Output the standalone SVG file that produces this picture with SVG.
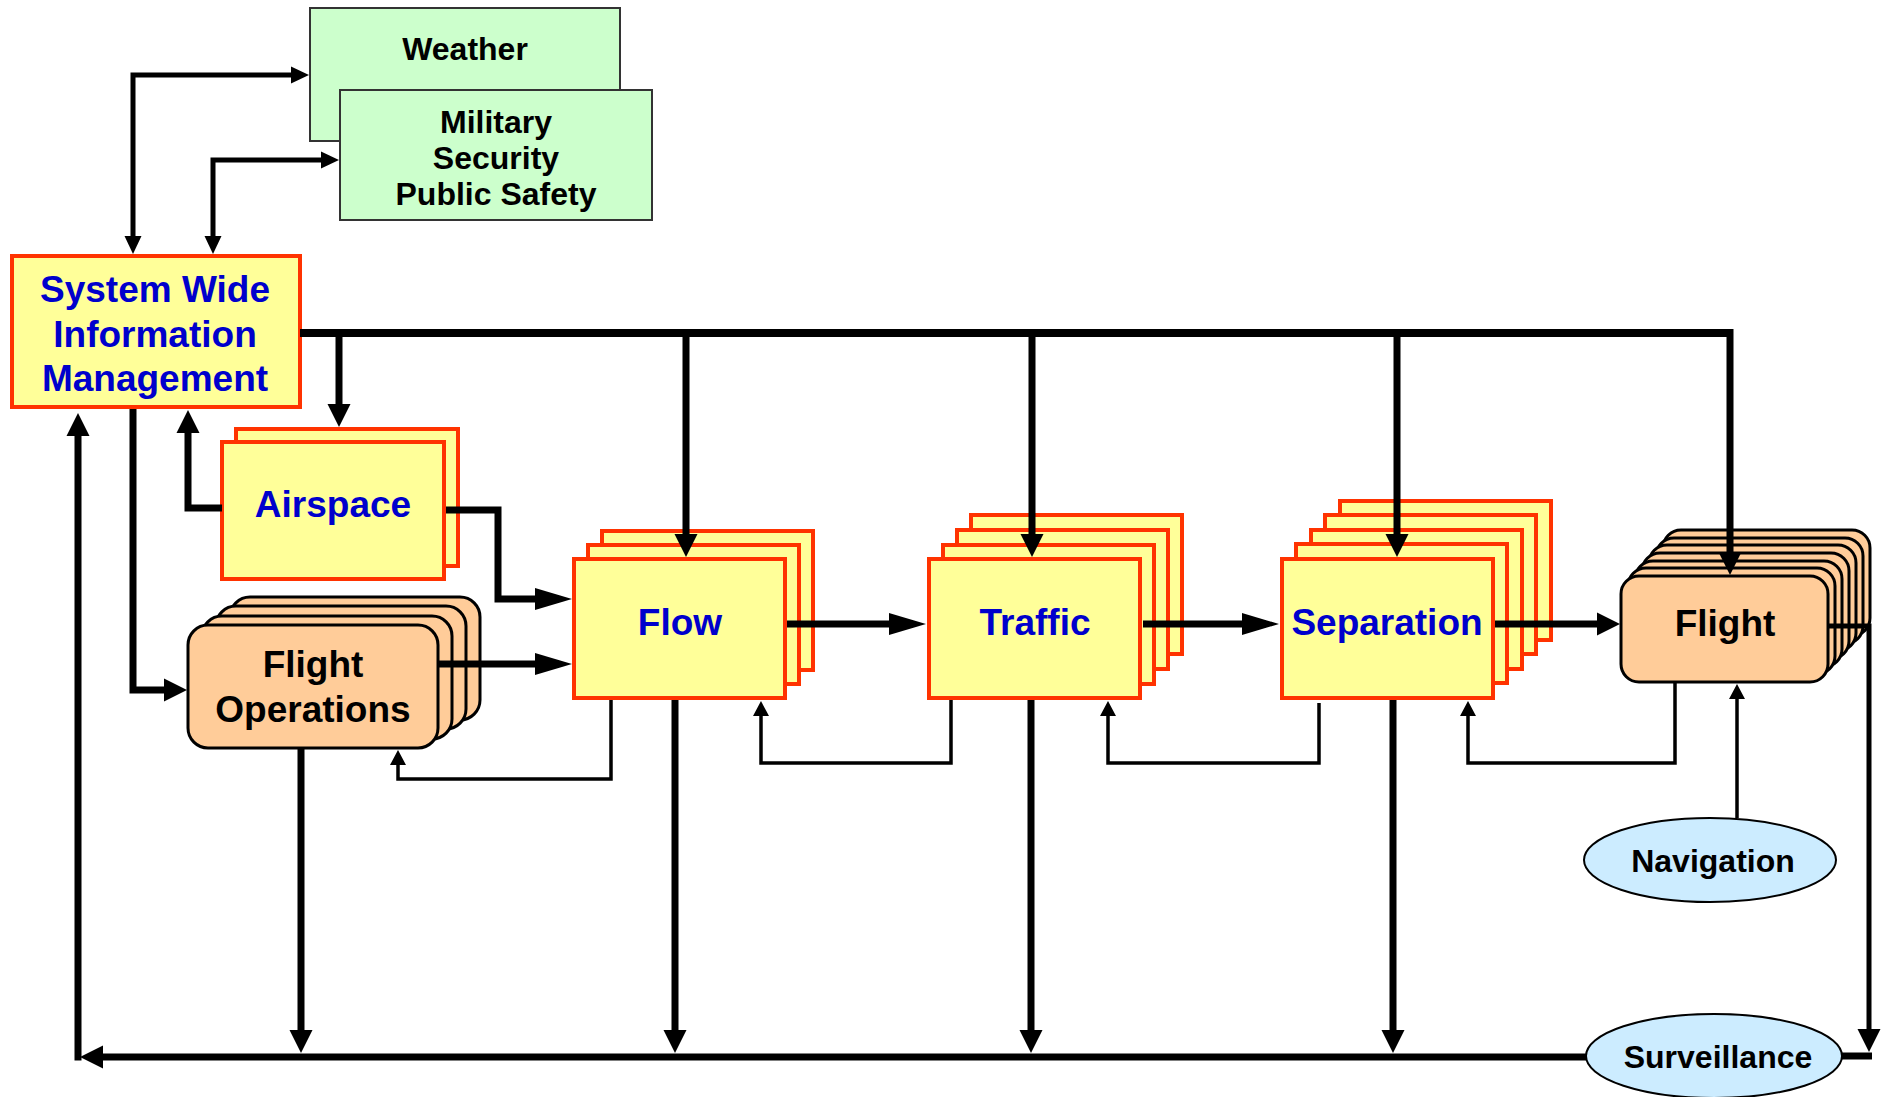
<svg xmlns="http://www.w3.org/2000/svg" width="1883" height="1097" viewBox="0 0 1883 1097">
  <style>
    text { font-family: "Liberation Sans", Arial, sans-serif; font-weight: bold; text-anchor: middle; }
    .blue { fill: #0000CC; font-size: 37px; }
    .dark { fill: #000000; font-size: 37px; }
    .ext { fill: #000000; font-size: 32px; }
    .svc { fill: #000000; font-size: 32px; }
    .ybox { fill: #FFFF99; stroke: #FF3300; stroke-width: 4; }
    .obox { fill: #FFCC99; stroke: #000000; stroke-width: 3; }
    .gbox { fill: #CCFFCC; stroke: #333333; stroke-width: 2; }
    .ell { fill: #CCECFF; stroke: #000000; stroke-width: 2; }
    .c { fill: none; stroke: #000000; stroke-linejoin: miter; stroke-linecap: butt; }
    .w8 { stroke-width: 8; }
    .w7 { stroke-width: 7; }
    .w5 { stroke-width: 5; }
    .w3 { stroke-width: 3.5; }
  </style>
  <defs>
    <marker id="ah" markerUnits="userSpaceOnUse" markerWidth="23" markerHeight="23" refX="14" refY="11.5" orient="auto" overflow="visible">
      <path d="M0,0 L23,11.5 L0,23 Z" fill="#000"/>
    </marker>
    <marker id="ahL" markerUnits="userSpaceOnUse" markerWidth="37" markerHeight="22" refX="24" refY="11" orient="auto" overflow="visible">
      <path d="M0,0 L37,11 L0,22 Z" fill="#000"/>
    </marker>
    <marker id="ahM" markerUnits="userSpaceOnUse" markerWidth="18" markerHeight="17" refX="11" refY="8.5" orient="auto-start-reverse" overflow="visible">
      <path d="M0,0 L18,8.5 L0,17 Z" fill="#000"/>
    </marker>
    <marker id="ahS" markerUnits="userSpaceOnUse" markerWidth="15" markerHeight="16" refX="10" refY="8" orient="auto" overflow="visible">
      <path d="M0,0 L15,8 L0,16 Z" fill="#000"/>
    </marker>
  </defs>

  <rect width="1883" height="1097" fill="#FFFFFF"/>

  <!-- external information sources -->
  <g id="weather">
    <rect class="gbox" x="310" y="8" width="310" height="133"/>
    <text class="ext" x="465" y="60">Weather</text>
  </g>
  <g id="military">
    <rect class="gbox" x="340" y="90" width="312" height="130"/>
    <text class="ext" x="496" y="133">Military</text>
    <text class="ext" x="496" y="169">Security</text>
    <text class="ext" x="496" y="205">Public Safety</text>
  </g>

  <g id="swim">
    <rect class="ybox" x="12" y="256" width="288" height="151"/>
    <text class="blue" x="155" y="302">System Wide</text>
    <text class="blue" x="155" y="347">Information</text>
    <text class="blue" x="155" y="391">Management</text>
  </g>

  <g id="airspace">
    <rect class="ybox" x="236" y="429" width="222" height="137"/>
    <rect class="ybox" x="222" y="442" width="222" height="137"/>
    <text class="blue" x="333" y="517">Airspace</text>
  </g>

  <g id="flight-operations">
    <rect class="obox" x="230" y="597" width="250" height="123" rx="20"/>
    <rect class="obox" x="216" y="606" width="250" height="123" rx="20"/>
    <rect class="obox" x="202" y="616" width="250" height="123" rx="20"/>
    <rect class="obox" x="188" y="625" width="250" height="123" rx="20"/>
    <text class="dark" x="313" y="677">Flight</text>
    <text class="dark" x="313" y="722">Operations</text>
  </g>

  <g id="flow">
    <rect class="ybox" x="602" y="531" width="211" height="139"/>
    <rect class="ybox" x="588" y="545" width="211" height="139"/>
    <rect class="ybox" x="574" y="559" width="211" height="139"/>
    <text class="blue" x="680" y="635">Flow</text>
  </g>

  <g id="traffic">
    <rect class="ybox" x="971" y="515" width="211" height="139"/>
    <rect class="ybox" x="957" y="530" width="211" height="139"/>
    <rect class="ybox" x="943" y="545" width="211" height="139"/>
    <rect class="ybox" x="929" y="559" width="211" height="139"/>
    <text class="blue" x="1035" y="635">Traffic</text>
  </g>

  <g id="separation">
    <rect class="ybox" x="1340" y="501" width="211" height="139"/>
    <rect class="ybox" x="1325" y="515" width="211" height="139"/>
    <rect class="ybox" x="1311" y="530" width="211" height="139"/>
    <rect class="ybox" x="1296" y="544" width="211" height="139"/>
    <rect class="ybox" x="1282" y="559" width="211" height="139"/>
    <text class="blue" x="1387" y="635">Separation</text>
  </g>

  <g id="flight">
    <rect class="obox" x="1663" y="530" width="207" height="106" rx="18"/>
    <rect class="obox" x="1656" y="538" width="207" height="106" rx="18"/>
    <rect class="obox" x="1649" y="545" width="207" height="106" rx="18"/>
    <rect class="obox" x="1642" y="553" width="207" height="106" rx="18"/>
    <rect class="obox" x="1635" y="561" width="207" height="106" rx="18"/>
    <rect class="obox" x="1628" y="568" width="207" height="106" rx="18"/>
    <rect class="obox" x="1621" y="576" width="207" height="106" rx="18"/>
    <text class="dark" x="1725" y="636">Flight</text>
  </g>

  <g id="navigation">
    <ellipse class="ell" cx="1710" cy="860" rx="126" ry="42"/>
    <text class="svc" x="1713" y="872">Navigation</text>
  </g>

  <g id="surveillance">
    <ellipse class="ell" cx="1714" cy="1056" rx="128" ry="42"/>
    <text class="svc" x="1718" y="1068">Surveillance</text>
  </g>

  <g id="connectors">
    <!-- SWIM exchanges with external sources -->
    <path class="c w5" d="M133,247 V75 H302" marker-start="url(#ahM)" marker-end="url(#ahM)"/>
    <path class="c w5" d="M213,247 V160 H332" marker-start="url(#ahM)" marker-end="url(#ahM)"/>

    <!-- SWIM distribution bus -->
    <path class="c w8" d="M300,333 H1733.5"/>
    <path class="c w7" d="M339,337 V418" marker-end="url(#ah)"/>
    <path class="c w7" d="M686,337 V548" marker-end="url(#ah)"/>
    <path class="c w7" d="M1032,337 V548" marker-end="url(#ah)"/>
    <path class="c w7" d="M1397,337 V548" marker-end="url(#ah)"/>
    <path class="c w7" d="M1730,337 V566" marker-end="url(#ah)"/>

    <!-- SWIM local links -->
    <path class="c w7" d="M222,508 H188 V419" marker-end="url(#ah)"/>
    <path class="c w7" d="M133,409 V690 H178" marker-end="url(#ah)"/>

    <!-- main flow chain -->
    <path class="c w7" d="M446,510 H498 V599 H559" marker-end="url(#ahL)"/>
    <path class="c w7" d="M438,664 H559" marker-end="url(#ahL)"/>
    <path class="c w7" d="M787,624 H913" marker-end="url(#ahL)"/>
    <path class="c w7" d="M1143,624 H1266" marker-end="url(#ahL)"/>
    <path class="c w7" d="M1495,624 H1611" marker-end="url(#ah)"/>

    <!-- flight to surveillance and back to SWIM -->
    <path class="c w5" d="M1828,626 H1869 V1043" marker-end="url(#ah)"/>
    <path class="c w7" d="M1841,1056 H1872"/>
    <path class="c w7" d="M1587,1057 H89" marker-end="url(#ah)"/>
    <path class="c w7" d="M78,1060.5 V422" marker-end="url(#ah)"/>

    <!-- reports down to the return bus -->
    <path class="c w7" d="M301,748 V1044" marker-end="url(#ah)"/>
    <path class="c w7" d="M675,700 V1044" marker-end="url(#ah)"/>
    <path class="c w7" d="M1031,700 V1044" marker-end="url(#ah)"/>
    <path class="c w7" d="M1393,700 V1044" marker-end="url(#ah)"/>

    <!-- feedback loops -->
    <path class="c w3" d="M611,700 V779 H398 V755" marker-end="url(#ahS)"/>
    <path class="c w3" d="M951,700 V763 H761 V706" marker-end="url(#ahS)"/>
    <path class="c w3" d="M1319,703 V763 H1108 V706" marker-end="url(#ahS)"/>
    <path class="c w3" d="M1675,682 V763 H1468 V706" marker-end="url(#ahS)"/>
    <path class="c w3" d="M1737,818 V689" marker-end="url(#ahS)"/>
  </g>
</svg>
